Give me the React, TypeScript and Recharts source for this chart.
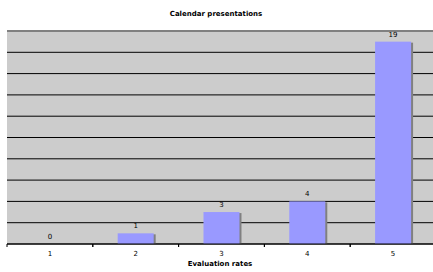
import { BarChart, Bar, XAxis, YAxis, CartesianGrid, LabelList, ReferenceLine } from "recharts";

const rates = ["1", "2", "3", "4", "5"];
const counts = [0, 1, 3, 4, 19];
const yTicks = [0, 2, 4, 6, 8, 10, 12, 14, 16, 18, 20];

const data = rates.map((rate, i) => ({ rate, count: counts[i] }));

const FONT = "Verdana, 'DejaVu Sans', sans-serif";
const CHART_W = 440;
const PLOT_LEFT = 7;
const PLOT_RIGHT = 436;
const BAND = (PLOT_RIGHT - PLOT_LEFT) / rates.length;

function ShadowBar(props: any) {
  const { x, y, width, height } = props;
  if (!height || height <= 0) return null;
  return (
    <g>
      <rect x={x + 2} y={y + 1} width={width} height={height - 1} fill="#808080" />
      <rect x={x} y={y} width={width} height={height} fill="#9999FF" />
    </g>
  );
}

function RateTick(props: any) {
  const { x, payload } = props;
  const base = 244;
  return (
    <g>
      <line x1={x - BAND / 2} x2={x - BAND / 2} y1={base} y2={base + 3} stroke="#000" />
      <line x1={x + BAND / 2} x2={x + BAND / 2} y1={base} y2={base + 3} stroke="#000" />
      <text x={x} y={base + 12} textAnchor="middle" fontSize={7} fontFamily={FONT} fill="#000">
        {payload.value}
      </text>
    </g>
  );
}

export default function App() {
  return (
    <div style={{ position: "absolute", left: 0, top: 0, width: 433, height: 272, overflow: "hidden", background: "#fff" }}>
      <svg style={{ position: "absolute", left: 0, top: 0 }} width={433} height={272}>
        <text x={216} y={16} textAnchor="middle" fontSize={7} fontWeight="bold" fontFamily={FONT} fill="#000">
          Calendar presentations
        </text>
        <text x={220} y={266} textAnchor="middle" fontSize={7} fontWeight="bold" fontFamily={FONT} fill="#000">
          Evaluation rates
        </text>
      </svg>
      <div style={{ position: "absolute", left: 0, top: 0 }}>
        <BarChart
          width={CHART_W}
          height={272}
          data={data}
          margin={{ top: 31, left: PLOT_LEFT, right: CHART_W - PLOT_RIGHT, bottom: 0 }}
          barCategoryGap="29%"
        >
          <CartesianGrid vertical={false} stroke="#000" fill="#CCCCCC" fillOpacity={1} />
          <YAxis
            width={0}
            domain={[0, 20]}
            ticks={yTicks}
            interval={0}
            tick={() => <g />}
            tickLine={false}
            axisLine={{ stroke: "#808080", strokeWidth: 2 }}
          />
          <XAxis
            dataKey="rate"
            height={28}
            axisLine={{ stroke: "#000" }}
            tickLine={false}
            tick={<RateTick />}
            interval={0}
          />
          <ReferenceLine y={20} stroke="#808080" strokeWidth={2} />
          <Bar dataKey="count" shape={<ShadowBar />} isAnimationActive={false}>
            <LabelList dataKey="count" position="top" offset={5} fontSize={7} fontFamily={FONT} fill="#000" />
          </Bar>
        </BarChart>
      </div>
    </div>
  );
}
